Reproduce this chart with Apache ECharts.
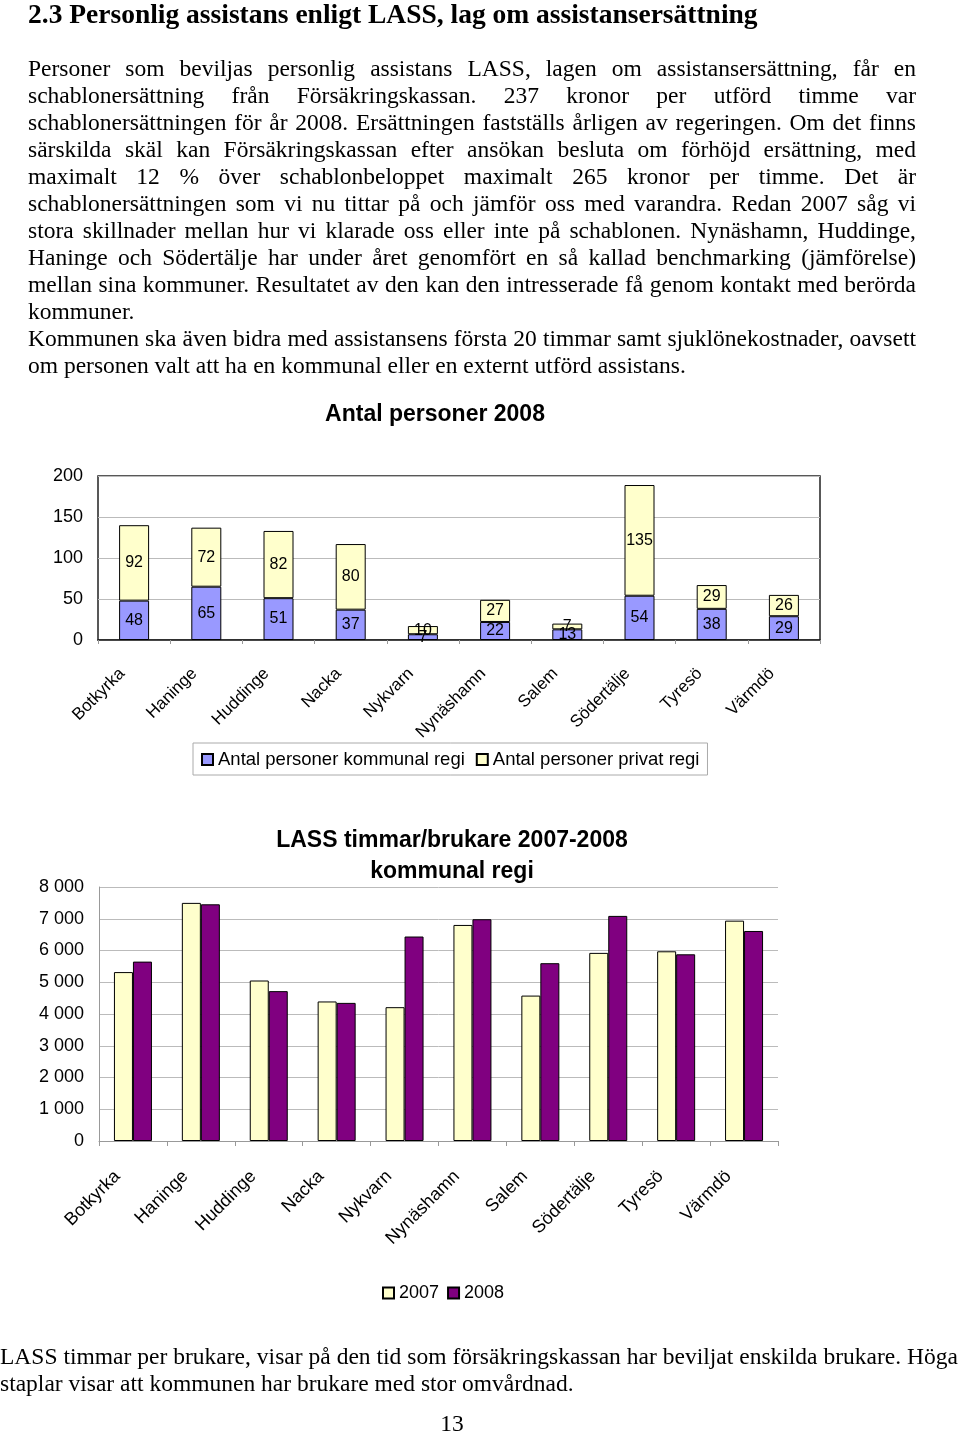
<!DOCTYPE html>
<html>
<head>
<meta charset="utf-8">
<script src="https://cdn.jsdelivr.net/npm/echarts@6/dist/echarts.min.js"></script>
<style>
  html, body { margin: 0; padding: 0; background: #fff; }
  body { width: 960px; height: 1434px; position: relative; overflow: hidden; }
  #chart { position: absolute; left: 0; top: 0; width: 960px; height: 1434px; }
  .txt { position: absolute; font-family: "Liberation Serif", "Times New Roman", serif; color: #000; font-size: 23.5px; line-height: 27px; z-index: 2; }
  .line { white-space: nowrap; }
  .j { text-align: justify; text-align-last: justify; white-space: normal; }
  h1 { position: absolute; margin: 0; left: 28px; top: 0; font-family: "Liberation Serif", "Times New Roman", serif; font-size: 27.5px; line-height: 27px; font-weight: bold; z-index: 2; white-space: nowrap; }
</style>
</head>
<body>
<div id="chart"></div>
<h1>2.3 Personlig assistans enligt LASS, lag om assistansersättning</h1>
<div class="txt" style="left:28px; top:55px; width:888px;">
  <div class="j">Personer som beviljas personlig assistans LASS, lagen om assistansersättning, får en</div>
  <div class="j">schablonersättning från Försäkringskassan. 237 kronor per utförd timme var</div>
  <div class="j">schablonersättningen för år 2008. Ersättningen fastställs årligen av regeringen. Om det finns</div>
  <div class="j">särskilda skäl kan Försäkringskassan efter ansökan besluta om förhöjd ersättning, med</div>
  <div class="j">maximalt 12 % över schablonbeloppet maximalt 265 kronor per timme. Det är</div>
  <div class="j">schablonersättningen som vi nu tittar på och jämför oss med varandra. Redan 2007 såg vi</div>
  <div class="j">stora skillnader mellan hur vi klarade oss eller inte på schablonen. Nynäshamn, Huddinge,</div>
  <div class="j">Haninge och Södertälje har under året genomfört en så kallad benchmarking (jämförelse)</div>
  <div class="j">mellan sina kommuner. Resultatet av den kan den intresserade få genom kontakt med berörda</div>
  <div class="line">kommuner.</div>
  <div class="j">Kommunen ska även bidra med assistansens första 20 timmar samt sjuklönekostnader, oavsett</div>
  <div class="line">om personen valt att ha en kommunal eller en externt utförd assistans.</div>
</div>
<div class="txt" style="left:0px; top:1343px; width:958px;">
  <div class="j">LASS timmar per brukare, visar på den tid som försäkringskassan har beviljat enskilda brukare. Höga</div>
  <div class="line">staplar visar att kommunen har brukare med stor omvårdnad.</div>
</div>
<div class="txt" style="left:0px; top:1410px; width:904px; text-align:center;">13</div>
<script>
const categories = ['Botkyrka','Haninge','Huddinge','Nacka','Nykvarn','Nynäshamn','Salem','Södertälje','Tyresö','Värmdö'];
const kommunalRegi = [48, 65, 51, 37, 7, 22, 13, 54, 38, 29];
const privatRegi = [92, 72, 82, 80, 10, 27, 7, 135, 29, 26];
const timmar2007 = [5320, 7500, 5055, 4395, 4215, 6805, 4580, 5925, 5975, 6940];
const timmar2008 = [5650, 7455, 4720, 4350, 6440, 6985, 5600, 7090, 5880, 6615];
const title1 = 'Antal personer 2008';
const title2 = 'LASS timmar/brukare 2007-2008\nkommunal regi';

const FONT = '"Liberation Sans", Arial, sans-serif';
const chart = echarts.init(document.getElementById('chart'), null, { renderer: 'canvas' });

function thousands(v) {
  return String(v).replace(/\B(?=(\d{3})+(?!\d))/g, ' ');
}

const option = {
  backgroundColor: '#fff',
  animation: false,
  textStyle: { fontFamily: FONT, color: '#000' },
  graphic: [
    { type: 'text', x: 435, y: 415, style: { text: title1, font: 'bold 23px ' + FONT, fill: '#000', textAlign: 'center', textVerticalAlign: 'middle' } },
    { type: 'text', x: 452, y: 856, style: { text: title2, font: 'bold 23px ' + FONT, fill: '#000', textAlign: 'center', textVerticalAlign: 'middle', lineHeight: 31 } }
  ],
  legend: [
    {
      data: ['Antal personer kommunal regi', 'Antal personer privat regi'],
      left: 193, top: 743,
      padding: [7, 8, 6, 8],
      itemGap: 11, itemWidth: 11, itemHeight: 11,
      icon: 'rect',
      borderColor: '#aaa', borderWidth: 1,
      textStyle: { fontSize: 18.5, fontFamily: FONT, color: '#000' }
    },
    {
      data: ['2007', '2008'],
      left: 377, top: 1279,
      itemGap: 8, itemWidth: 11, itemHeight: 11,
      icon: 'rect',
      textStyle: { fontSize: 18, fontFamily: FONT, color: '#000' }
    }
  ],
  grid: [
    { left: 98, top: 476, width: 722, height: 164, show: true, borderColor: '#222', borderWidth: 1.5, backgroundColor: 'transparent', containLabel: false },
    { left: 99, top: 887, width: 679, height: 254, show: false, containLabel: false }
  ],
  xAxis: [
    {
      gridIndex: 0, type: 'category', data: categories,
      axisLine: { show: true, lineStyle: { color: '#222', width: 1.5 } },
      axisTick: { show: true, length: 4, lineStyle: { color: '#999' } },
      axisLabel: { rotate: 45, fontSize: 17, color: '#000', margin: 19, padding: [0, 17, 0, 0], fontFamily: FONT, interval: 0 }
    },
    {
      gridIndex: 1, type: 'category', data: categories,
      axisLine: { show: true, lineStyle: { color: '#999', width: 1 } },
      axisTick: { show: true, length: 5, lineStyle: { color: '#999' } },
      axisLabel: { rotate: 45, fontSize: 18, color: '#000', margin: 17, padding: [0, 22, 0, 0], fontFamily: FONT, interval: 0 }
    }
  ],
  yAxis: [
    {
      gridIndex: 0, type: 'value', min: 0, max: 200, interval: 50,
      axisLine: { show: false }, axisTick: { show: false },
      splitLine: { show: true, lineStyle: { color: '#bbb', width: 1 } },
      axisLabel: { fontSize: 18, color: '#000', margin: 15, fontFamily: FONT }
    },
    {
      gridIndex: 1, type: 'value', min: 0, max: 8000, interval: 1000,
      axisLine: { show: true, lineStyle: { color: '#999' } }, axisTick: { show: false },
      splitLine: { show: true, lineStyle: { color: '#bbb', width: 1 } },
      axisLabel: { fontSize: 18, color: '#000', margin: 15, fontFamily: FONT, formatter: thousands }
    }
  ],
  series: [
    {
      name: 'Antal personer kommunal regi', type: 'bar', stack: 'p', xAxisIndex: 0, yAxisIndex: 0,
      data: kommunalRegi, barWidth: 30,
      itemStyle: { color: '#9999FF', borderColor: '#000', borderWidth: 1 },
      label: { show: true, position: 'inside', fontSize: 16, color: '#000', fontFamily: FONT }
    },
    {
      name: 'Antal personer privat regi', type: 'bar', stack: 'p', xAxisIndex: 0, yAxisIndex: 0,
      data: privatRegi, barWidth: 30,
      itemStyle: { color: '#FFFFCC', borderColor: '#000', borderWidth: 1 },
      label: { show: true, position: 'inside', fontSize: 16, color: '#000', fontFamily: FONT }
    },
    {
      name: '2007', type: 'bar', xAxisIndex: 1, yAxisIndex: 1,
      data: timmar2007, barWidth: 19, barGap: '0%',
      itemStyle: { color: '#FFFFCC', borderColor: '#000', borderWidth: 1 }
    },
    {
      name: '2008', type: 'bar', xAxisIndex: 1, yAxisIndex: 1,
      data: timmar2008, barWidth: 19, barGap: '0%',
      itemStyle: { color: '#800080', borderColor: '#000', borderWidth: 1 }
    }
  ]
};
chart.setOption(option);
</script>
</body>
</html>
